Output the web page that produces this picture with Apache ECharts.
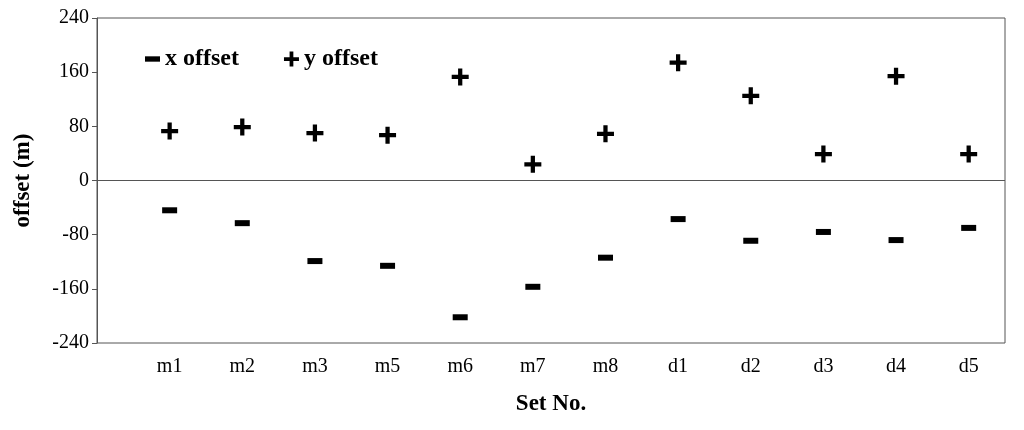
<!DOCTYPE html>
<html><head><meta charset="utf-8">
<script src="https://cdn.jsdelivr.net/npm/echarts@6/dist/echarts.min.js"></script>
<style>body{margin:0}#c{width:1024px;height:430px}</style></head>
<body><div id="c"></div>
<script>
var sets = ['m1','m2','m3','m5','m6','m7','m8','d1','d2','d3','d4','d5'];
var xOffset = [-44,-63,-119,-126,-202,-157,-114,-57,-89,-76,-88,-70];
var yOffset = [73,79,70,67,153,24,69,174,125,39,154,39];

var dash = 'path://M0,0L14,0L14,5L0,5Z';
var plus = 'path://M6,0L10,0L10,6L16,6L16,10L10,10L10,16L6,16L6,10L0,10L0,6L6,6Z';
var font = 'Liberation Serif';

var chart = echarts.init(document.getElementById('c'));
chart.setOption({
    textStyle: { fontFamily: font },
    grid: { left: 97, right: 19, top: 18, bottom: 87, show: true, borderColor: '#555', borderWidth: 1 },
    legend: {
        left: 140, top: 42, itemGap: 45, itemWidth: 15, itemHeight: 15,
        textStyle: { fontFamily: font, fontSize: 24, fontWeight: 'bold', color: '#000' },
        data: [{ name: 'x offset', icon: dash }, { name: 'y offset', icon: plus }]
    },
    xAxis: {
        type: 'value', min: 0, max: 12.5, interval: 1,
        name: 'Set No.', nameLocation: 'middle', nameGap: 50,
        nameTextStyle: { fontFamily: font, fontSize: 23, fontWeight: 'bold', color: '#000' },
        axisLine: { show: false }, axisTick: { show: false }, splitLine: { show: false },
        axisLabel: { fontSize: 20, color: '#000', margin: 14,
            formatter: function (v) { return sets[v - 1] || ''; } }
    },
    yAxis: {
        type: 'value', min: -240, max: 240, interval: 80,
        name: 'offset (m)', nameLocation: 'middle', nameGap: 62,
        nameTextStyle: { fontFamily: font, fontSize: 23, fontWeight: 'bold', color: '#000' },
        axisLine: { show: true, lineStyle: { color: '#555' } },
        axisTick: { show: true, inside: false, length: 5, lineStyle: { color: '#555' } },
        splitLine: { show: false },
        axisLabel: { fontSize: 20, color: '#000' }
    },
    series: [
        {
            name: 'x offset', type: 'scatter', symbol: dash, symbolSize: [15, 6],
            itemStyle: { color: '#000', opacity: 1 },
            data: xOffset.map(function (v, i) { return [i + 1, v]; }),
            markLine: { silent: true, symbol: 'none', label: { show: false },
                lineStyle: { color: '#555', width: 1, type: 'solid' }, data: [{ yAxis: 0 }] }
        },
        {
            name: 'y offset', type: 'scatter', symbol: plus, symbolSize: 17,
            itemStyle: { color: '#000', opacity: 1 },
            data: yOffset.map(function (v, i) { return [i + 1, v]; })
        }
    ]
});
</script></body></html>
